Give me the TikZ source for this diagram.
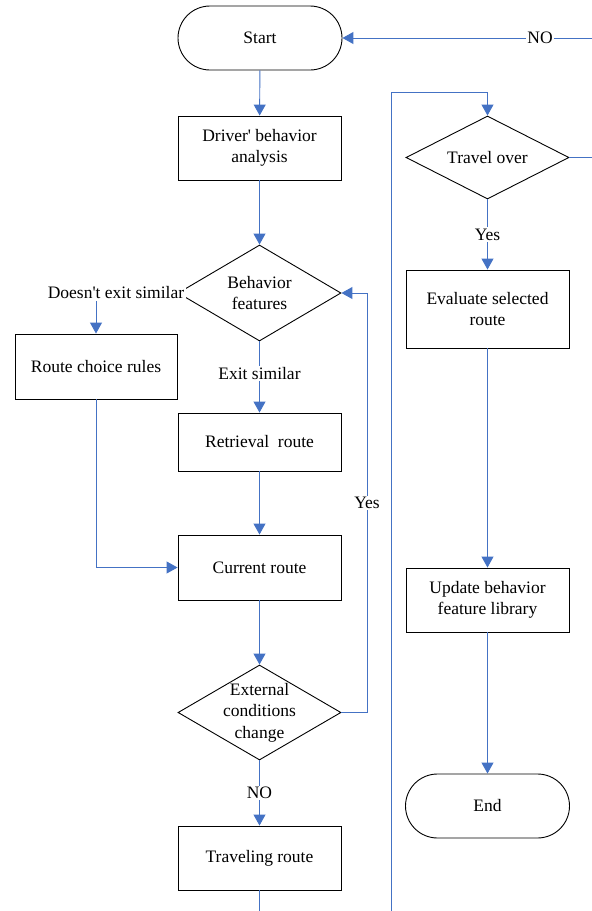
\documentclass[tikz,border=0pt]{standalone}
\usepackage{fontspec}
\setmainfont{Liberation Serif}[Ligatures=TeXOff]
\usetikzlibrary{arrows.meta,shapes.geometric}
\definecolor{lineblue}{HTML}{4472C4}
\begin{document}
\begin{tikzpicture}[x=1pt,y=-1pt,
  every node/.style={font=\fontsize{17.5}{21.5}\selectfont, align=center},
  procbox/.style={draw=black, line width=0.9pt, rectangle, minimum width=163pt, inner sep=0pt},
  termbox/.style={draw=black, line width=0.9pt, rectangle, rounded corners=32pt, minimum width=164pt, minimum height=64pt, inner sep=0pt},
  decbox/.style={draw=black, line width=0.9pt, diamond, minimum width=163pt, inner sep=0pt},
  conn/.style={draw=lineblue, line width=0.95pt, -{Triangle[length=11pt,width=12pt]}},
  plainconn/.style={draw=lineblue, line width=0.95pt},
  lbl/.style={fill=white, inner sep=1.5pt}
]
\useasboundingbox (0,0) rectangle (592,911);

% nodes
\node[termbox] (start) at (260,38) {Start};
\node[procbox, minimum height=64pt] (driver) at (259.5,148) {Driver' behavior\\analysis};
\node[decbox, minimum height=96pt, label={[align=center]center:Behavior\\features}] (bf) at (259.5,293) {};
\node[procbox, minimum width=162pt, minimum height=65pt] (rcr) at (96,366.5) {Route choice rules};
\node[procbox, minimum height=58pt] (ret) at (259.5,442) {Retrieval~ route};
\node[procbox, minimum height=65pt] (cur) at (259.5,567.5) {Current route};
\node[decbox, minimum height=95pt, label={[align=center]center:External\\conditions\\change}] (ext) at (259.5,712.5) {};
\node[procbox, minimum height=64pt] (trav) at (259.5,858) {Traveling route};

\node[decbox, minimum height=83pt, label={[align=center]center:Travel over}] (tover) at (487.5,157.5) {};
\node[procbox, minimum height=78pt] (eval) at (487.5,309) {Evaluate selected\\route};
\node[procbox, minimum height=64pt] (upd) at (487.5,600) {Update behavior\\feature library};
\node[termbox] (endn) at (487.5,806) {End};

% helper coordinates
\coordinate (botL) at (259.5,911);
\coordinate (botR) at (391,911);
\coordinate (topR) at (391,92);
\coordinate (yesx) at (367,0);
\coordinate (edgeR) at (597,0);

% connectors
\draw[conn] (start) -- (driver);
\draw[conn] (driver) -- (bf);
\draw[conn] (bf.west) -| (rcr.north);
\node[lbl] (dnes) at (116,293) {Doesn't exit similar};
\draw[conn] (bf) -- (ret) node[lbl, pos=0.45] (exs) {Exit similar};
\draw[conn] (ret) -- (cur);
\draw[conn] (rcr.south) |- (cur.west);
\draw[conn] (cur) -- (ext);
\draw[conn] (ext.east) -| (yesx |- bf.east) -- (bf.east);
\node[lbl] (yes1) at (367,503) {Yes};
\draw[conn] (ext) -- (trav) node[lbl, pos=0.5] (no1) {NO};
\draw[plainconn] (trav) -- (botL);
\draw[conn] (botR) -- (topR) -| (tover.north);
\draw[conn] (tover.east) -- (edgeR |- tover.east) -- (edgeR |- start.east) -- (start.east);
\node[lbl] (no2) at (540,38) {NO};
\draw[conn] (tover) -- (eval) node[lbl, pos=0.5] (yes2) {Yes};
\draw[conn] (eval) -- (upd);
\draw[conn] (upd) -- (endn);
\end{tikzpicture}
\end{document}
